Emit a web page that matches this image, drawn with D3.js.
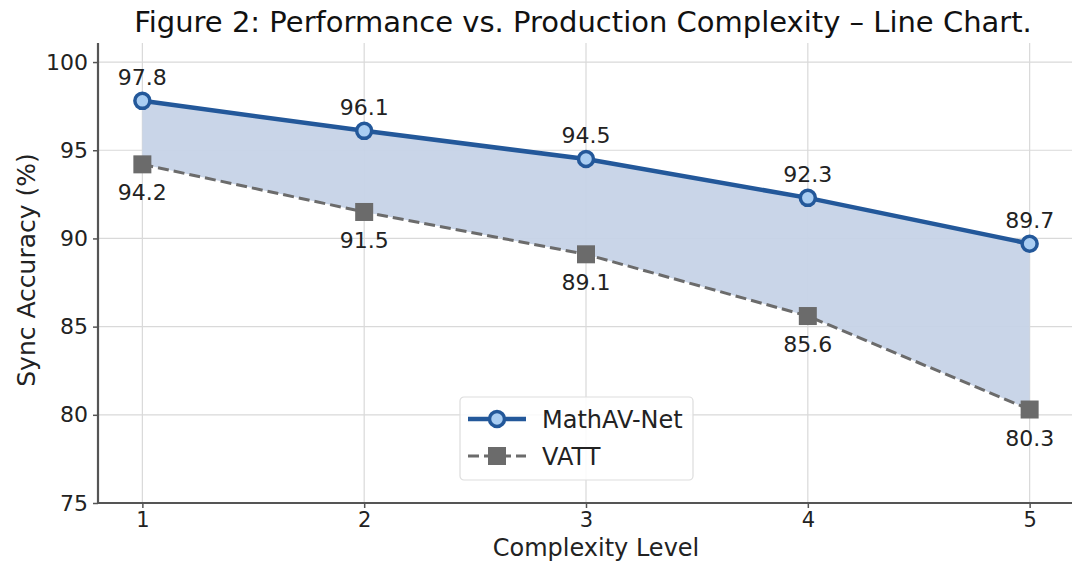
<!DOCTYPE html>
<html>
<head>
<meta charset="utf-8">
<script src="https://cdn.jsdelivr.net/npm/d3@7"></script>
<style>
  html, body { margin: 0; padding: 0; background: #fff; }
  svg { display: block; font-family: "DejaVu Sans", sans-serif; }
</style>
</head>
<body>
<svg id="chart" width="1072" height="568"></svg>
<script>
// Sync accuracy by complexity level for the two models
const levels = [1, 2, 3, 4, 5];
const mathavNet = [97.8, 96.1, 94.5, 92.3, 89.7];
const vatt = [94.2, 91.5, 89.1, 85.6, 80.3];
const yTicks = [75, 80, 85, 90, 95, 100];
const seriesNames = ["MathAV-Net", "VATT"];

const W = 1072, H = 568;
const margin = { left: 98, right: -2, top: 43, bottom: 65 };
const svg = d3.select("#chart");

const x = d3.scaleLinear().domain([0.8, 5.2]).range([margin.left, W - margin.right]);
const y = d3.scaleLinear().domain([75, 101.08]).range([H - margin.bottom, margin.top]);

const blue = "#23589a", blueFace = "#a9cdf2", grey = "#6b6b6b";
const ink = "#222";

// grid
const g = svg.append("g");
g.selectAll("line.gx").data(levels).join("line")
  .attr("x1", d => x(d)).attr("x2", d => x(d))
  .attr("y1", y.range()[0]).attr("y2", y.range()[1])
  .attr("stroke", "#d9d9d9").attr("stroke-width", 1.2);
g.selectAll("line.gy").data(yTicks).join("line")
  .attr("x1", x.range()[0]).attr("x2", x.range()[1])
  .attr("y1", d => y(d)).attr("y2", d => y(d))
  .attr("stroke", "#d9d9d9").attr("stroke-width", 1.2);

// shaded gap between the two series
const rows = levels.map((l, i) => ({ l, a: mathavNet[i], b: vatt[i] }));
svg.append("path").datum(rows)
  .attr("d", d3.area().x(d => x(d.l)).y0(d => y(d.b)).y1(d => y(d.a)))
  .attr("fill", "#c6d3e7").attr("opacity", 0.95);

// axes
const xAxis = d3.axisBottom(x).tickValues(levels).tickFormat(d3.format("d")).tickSize(5).tickPadding(4);
const yAxis = d3.axisLeft(y).tickValues(yTicks).tickSize(5).tickPadding(5);
const ax = svg.append("g").attr("transform", `translate(0,${y.range()[0]})`).call(xAxis);
const ay = svg.append("g").attr("transform", `translate(${x.range()[0]},0)`).call(yAxis);
[ax, ay].forEach(a => {
  a.select(".domain").attr("stroke", "#555").attr("stroke-width", 2.2);
  a.selectAll(".tick line").attr("stroke", "#555").attr("stroke-width", 1.5);
  a.selectAll(".tick text").attr("fill", ink).style("font-size", "22px").style("font-family", "'DejaVu Sans', sans-serif");
});
ax.selectAll(".tick text").style("font-size", "21px");
ax.select(".domain").attr("d", `M${x.range()[0]},0H${x.range()[1]}`);
ay.select(".domain").attr("d", `M0,${y.range()[0]}V${y.range()[1]}`);

// VATT dashed line with square markers
svg.append("path").datum(vatt)
  .attr("d", d3.line().x((d, i) => x(levels[i])).y(d => y(d)))
  .attr("fill", "none").attr("stroke", grey).attr("stroke-width", 3)
  .attr("stroke-dasharray", "11,5");
svg.selectAll("rect.vm").data(vatt).join("rect")
  .attr("x", (d, i) => x(levels[i]) - 9).attr("y", d => y(d) - 9)
  .attr("width", 18).attr("height", 18).attr("fill", grey);

// MathAV-Net solid line with circle markers
svg.append("path").datum(mathavNet)
  .attr("d", d3.line().x((d, i) => x(levels[i])).y(d => y(d)))
  .attr("fill", "none").attr("stroke", blue).attr("stroke-width", 4.5);
svg.selectAll("circle.mm").data(mathavNet).join("circle")
  .attr("cx", (d, i) => x(levels[i])).attr("cy", d => y(d)).attr("r", 7.5)
  .attr("fill", blueFace).attr("stroke", blue).attr("stroke-width", 3.5);

// value labels
svg.selectAll("text.ml").data(mathavNet).join("text")
  .attr("x", (d, i) => x(levels[i])).attr("y", d => y(d) - 16)
  .attr("text-anchor", "middle").attr("fill", ink).style("font-size", "22px")
  .text(d => d.toFixed(1));
svg.selectAll("text.vl").data(vatt).join("text")
  .attr("x", (d, i) => x(levels[i])).attr("y", d => y(d) + 36)
  .attr("text-anchor", "middle").attr("fill", ink).style("font-size", "22px")
  .text(d => d.toFixed(1));

// titles
svg.append("text").attr("x", 583).attr("y", 32)
  .attr("text-anchor", "middle").attr("fill", "#111").style("font-size", "29px")
  .text("Figure 2: Performance vs. Production Complexity \u2013 Line Chart.");
svg.append("text").attr("x", 596).attr("y", 556)
  .attr("text-anchor", "middle").attr("fill", ink).style("font-size", "24px")
  .text("Complexity Level");
svg.append("text").attr("transform", "translate(35,270) rotate(-90)")
  .attr("text-anchor", "middle").attr("fill", ink).style("font-size", "25px")
  .text("Sync Accuracy (%)");

// legend
const lg = svg.append("g").attr("transform", "translate(460,397)");
lg.append("rect").attr("width", 233).attr("height", 83).attr("rx", 4)
  .attr("fill", "#fff").attr("fill-opacity", 0.85).attr("stroke", "#ddd").attr("stroke-width", 1.2);
const ent = lg.selectAll("g.e").data(seriesNames).join("g")
  .attr("transform", (d, i) => `translate(0,${22 + i * 37})`);
ent.append("line").attr("x1", 8).attr("x2", 66).attr("y1", 0).attr("y2", 0)
  .attr("stroke", (d, i) => i ? grey : blue).attr("stroke-width", (d, i) => i ? 3 : 4.5)
  .attr("stroke-dasharray", (d, i) => i ? "11,5" : null);
ent.filter((d, i) => i === 0).append("circle").attr("cx", 37).attr("r", 7.5)
  .attr("fill", blueFace).attr("stroke", blue).attr("stroke-width", 3.5);
ent.filter((d, i) => i === 1).append("rect").attr("x", 28).attr("y", -9).attr("width", 18).attr("height", 18).attr("fill", grey);
ent.append("text").attr("x", 82).attr("y", 9).attr("fill", ink).style("font-size", "24px").text(d => d);
</script>
</body>
</html>
